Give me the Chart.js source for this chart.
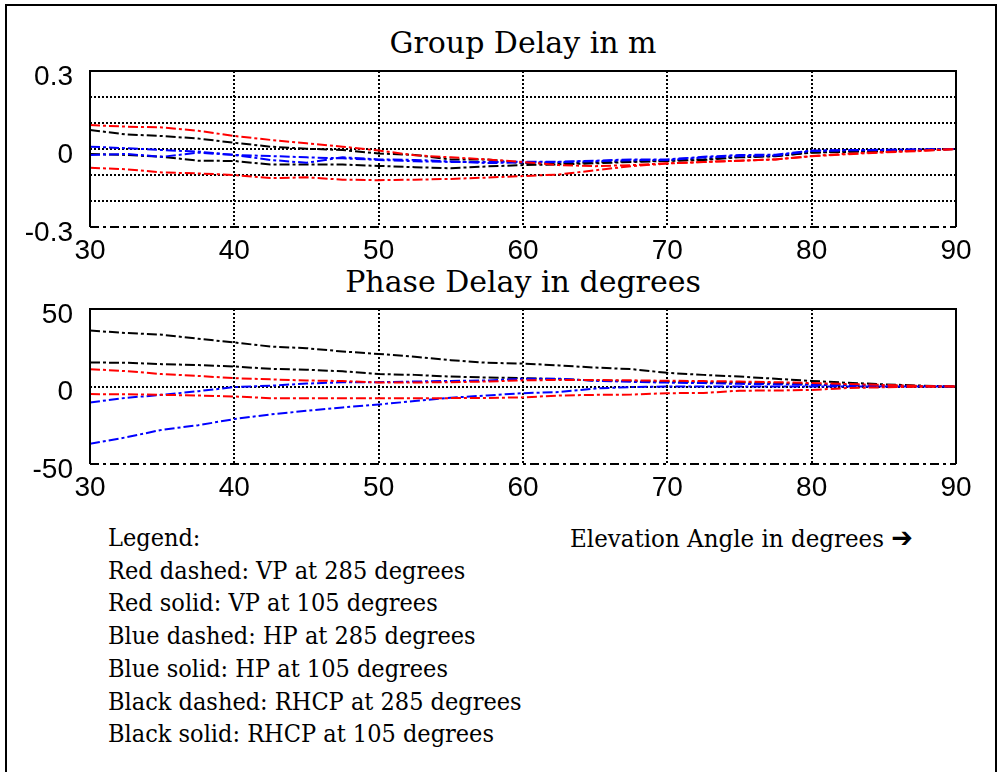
<!DOCTYPE html>
<html>
<head>
<meta charset="utf-8">
<script src="https://cdn.jsdelivr.net/npm/chart.js@4.4.1/dist/chart.umd.min.js"></script>
<style>
  html, body { margin: 0; padding: 0; background: #fff; }
  body { width: 999px; height: 772px; position: relative; overflow: hidden; }
  #frame { position: absolute; left: 5px; top: 4px; width: 992px; height: 820px; border: 2px solid #000; box-sizing: border-box; }
  .txt { position: absolute; font-family: "DejaVu Serif", serif; color: #000; white-space: nowrap; }
  .title { left: 90px; width: 866px; text-align: center; font-size: 30px; line-height: 30px; }
  #t1 { top: 28px; }
  #t2 { top: 267px; }
  #legend { left: 108px; top: 522px; font-size: 25px; line-height: 32.7px; transform: scaleX(0.9); transform-origin: 0 0; }
  #xlab { left: 570px; top: 522px; font-size: 25px; line-height: 32.7px; transform: scaleX(0.92); transform-origin: 0 0; }
  #xlab .arrow { font-family: "DejaVu Sans", sans-serif; font-weight: bold; font-size: 28px; }
  canvas { position: absolute; left: 0; }
  #c1 { top: 31px; }
  #c2 { top: 269px; }
</style>
</head>
<body>
<div id="frame"></div>
<div class="txt title" id="t1">Group Delay in m</div>
<div class="txt title" id="t2">Phase Delay in degrees</div>
<canvas id="c1" width="990" height="234"></canvas>
<canvas id="c2" width="990" height="233"></canvas>
<div class="txt" id="legend">Legend:<br>Red dashed: VP at 285 degrees<br>Red solid: VP at 105 degrees<br>Blue dashed: HP at 285 degrees<br>Blue solid: HP at 105 degrees<br>Black dashed: RHCP at 285 degrees<br>Black solid: RHCP at 105 degrees</div>
<div class="txt" id="xlab">Elevation Angle in degrees <span class="arrow">&#x2794;</span></div>
<script>
// Elevation angles (degrees)
const angles = [30, 32.5, 35, 37.5, 40, 42.5, 45, 47.5, 50, 52.5, 55, 57.5, 60,
                62.5, 65, 67.5, 70, 72.5, 75, 77.5, 80, 82.5, 85, 87.5, 90];

// Group delay (m)
const gdRedDashed   = [0.092, 0.086, 0.083, 0.070, 0.050, 0.035, 0.022, 0.009, -0.006, -0.024, -0.032, -0.040, -0.050,
                       -0.062, -0.066, -0.062, -0.055, -0.050, -0.045, -0.040, -0.027, -0.018, -0.012, -0.006, 0];
const gdRedSolid    = [-0.072, -0.078, -0.090, -0.094, -0.100, -0.112, -0.109, -0.118, -0.120, -0.118, -0.115, -0.110, -0.104,
                       -0.098, -0.082, -0.066, -0.056, -0.050, -0.045, -0.040, -0.028, -0.020, -0.013, -0.008, 0];
const gdBlueDashed  = [0.009, 0.003, -0.004, -0.010, -0.023, -0.027, -0.032, -0.036, -0.042, -0.047, -0.050, -0.050, -0.049,
                       -0.049, -0.045, -0.040, -0.040, -0.030, -0.023, -0.022, -0.006, -0.004, -0.003, -0.002, 0];
const gdBlueSolid   = [-0.023, -0.019, -0.030, -0.014, -0.023, -0.042, -0.053, -0.032, -0.040, -0.042, -0.048, -0.054, -0.052,
                       -0.050, -0.047, -0.043, -0.042, -0.033, -0.027, -0.025, -0.008, -0.005, -0.004, -0.002, 0];
const gdBlackDashed = [0.073, 0.056, 0.050, 0.040, 0.024, 0.009, 0.001, -0.004, -0.017, -0.023, -0.040, -0.040, -0.054,
                       -0.055, -0.052, -0.048, -0.045, -0.040, -0.030, -0.027, -0.013, -0.010, -0.007, -0.004, 0];
const gdBlackSolid  = [-0.019, -0.023, -0.030, -0.045, -0.046, -0.060, -0.060, -0.060, -0.065, -0.070, -0.074, -0.067, -0.062,
                       -0.059, -0.055, -0.050, -0.046, -0.042, -0.032, -0.028, -0.014, -0.011, -0.008, -0.004, 0];

// Phase delay (degrees)
const pdRedDashed   = [11.2, 9.9, 8.0, 6.8, 5.4, 4.6, 3.9, 3.5, 2.6, 2.6, 2.8, 3.2, 4.0,
                       4.2, 4.2, 4.0, 3.7, 3.5, 3.2, 2.8, 2.2, 1.6, 1.0, 0.4, 0];
const pdRedSolid    = [-4.9, -5.0, -5.4, -5.8, -6.4, -7.5, -7.5, -7.5, -7.5, -7.5, -7.5, -7.4, -7.0,
                       -5.8, -5.4, -5.2, -4.3, -4.2, -2.7, -2.6, -2.2, -1.0, -0.5, -0.2, 0];
const pdBlueDashed  = [-10.3, -7.3, -5.4, -3.0, -0.4, 0.5, 1.9, 2.7, 2.8, 3.2, 3.6, 3.9, 5.0,
                       5.0, 3.7, 3.0, 2.5, 2.2, 1.7, 1.4, 1.1, 0.8, 0.5, 0.2, 0];
const pdBlueSolid   = [-37.0, -32.8, -27.9, -25.0, -21.0, -18.0, -15.7, -13.5, -11.6, -9.4, -7.2, -5.8, -4.3,
                       -3.6, -1.3, -0.4, 0, 0, 0, 0, 0, 0, 0, 0, 0];
const pdBlackDashed = [36.1, 34.5, 33.4, 30.8, 28.4, 25.8, 24.7, 22.6, 21.0, 19.2, 17.0, 15.3, 14.8,
                       13.6, 12.2, 11.2, 8.8, 7.5, 6.4, 5.0, 3.6, 2.4, 1.4, 0.6, 0];
const pdBlackSolid  = [15.5, 15.3, 14.4, 13.8, 12.9, 11.4, 10.8, 9.8, 8.0, 7.5, 6.4, 5.8, 5.4,
                       4.8, 3.9, 3.5, 3.0, 2.8, 2.6, 2.2, 1.5, 1.0, 0.6, 0.3, 0];

const xTicks = [30, 40, 50, 60, 70, 80, 90];
const gdTickLabels = [-0.3, 0, 0.3];
const pdTickLabels = [-50, 0, 50];

const COLORS = { red: '#ff0000', blue: '#0000ff', black: '#000000' };

function mkSet(label, values, color) {
  return {
    label,
    data: values.map((v, i) => ({ x: angles[i], y: v })),
    borderColor: color,
    borderWidth: 2,
    borderDash: [10, 3, 3, 3],
    pointRadius: 0,
    tension: 0,
    fill: false
  };
}

const framePlugin = {
  id: 'frame',
  afterDatasetsDraw(chart) {
    const { ctx, chartArea: a } = chart;
    ctx.save();
    ctx.strokeStyle = '#000';
    ctx.lineWidth = 2;
    ctx.beginPath();
    ctx.moveTo(a.left, a.bottom);
    ctx.lineTo(a.left, a.top);
    ctx.lineTo(a.right, a.top);
    ctx.lineTo(a.right, a.bottom);
    ctx.stroke();
    ctx.setLineDash([9, 4, 3, 4]);
    ctx.beginPath();
    ctx.moveTo(a.left, a.bottom);
    ctx.lineTo(a.right, a.bottom);
    ctx.stroke();
    ctx.restore();
  }
};

function isEdge(ctx, min, max) {
  const v = ctx.tick ? ctx.tick.value : null;
  return v === null || Math.abs(v - min) < 1e-9 || Math.abs(v - max) < 1e-9;
}

function makeChart(id, sets, yMin, yMax, yStep, labelVals, fmt) {
  return new Chart(document.getElementById(id), {
    type: 'line',
    data: { datasets: sets },
    plugins: [framePlugin],
    options: {
      responsive: false,
      animation: false,
      devicePixelRatio: 1,
      layout: { padding: { left: 0, right: 34, top: 40, bottom: 0 } },
      plugins: { legend: { display: false }, title: { display: false }, tooltip: { enabled: false } },
      scales: {
        x: {
          type: 'linear', min: 30, max: 90,
          afterBuildTicks: (s) => { s.ticks = xTicks.map(v => ({ value: v })); },
          afterFit: (s) => { s.height = 38; },
          ticks: { autoSkip: false, maxRotation: 0, padding: 7, color: '#000',
                   font: { family: 'Liberation Sans', size: 28 } },
          grid: { drawTicks: false, lineWidth: 2,
                  color: (c) => isEdge(c, 30, 90) ? 'rgba(0,0,0,0)' : '#000' },
          border: { display: false, dash: [2, 2] }
        },
        y: {
          type: 'linear', min: yMin, max: yMax,
          ticks: { stepSize: yStep, autoSkip: false, padding: 17, labelOffset: 6, color: '#000',
                   font: { family: 'Liberation Sans', size: 28 },
                   callback: (v) => labelVals.some(t => Math.abs(t - v) < 1e-9) ? fmt(v) : '' },
          afterFit: (s) => { s.width = 90; },
          grid: { drawTicks: false, lineWidth: 2,
                  color: (c) => isEdge(c, yMin, yMax) ? 'rgba(0,0,0,0)' : '#000' },
          border: { display: false, dash: [2, 2] }
        }
      }
    }
  });
}

const fmtGd = (v) => Math.abs(v) < 1e-9 ? '0' : v.toFixed(1);
const fmtPd = (v) => String(Math.round(v));

makeChart('c1', [
  mkSet('Red dashed: VP at 285 degrees', gdRedDashed, COLORS.red),
  mkSet('Red solid: VP at 105 degrees', gdRedSolid, COLORS.red),
  mkSet('Blue dashed: HP at 285 degrees', gdBlueDashed, COLORS.blue),
  mkSet('Blue solid: HP at 105 degrees', gdBlueSolid, COLORS.blue),
  mkSet('Black dashed: RHCP at 285 degrees', gdBlackDashed, COLORS.black),
  mkSet('Black solid: RHCP at 105 degrees', gdBlackSolid, COLORS.black)
], -0.3, 0.3, 0.1, gdTickLabels, fmtGd);

makeChart('c2', [
  mkSet('Red dashed: VP at 285 degrees', pdRedDashed, COLORS.red),
  mkSet('Red solid: VP at 105 degrees', pdRedSolid, COLORS.red),
  mkSet('Blue dashed: HP at 285 degrees', pdBlueDashed, COLORS.blue),
  mkSet('Blue solid: HP at 105 degrees', pdBlueSolid, COLORS.blue),
  mkSet('Black dashed: RHCP at 285 degrees', pdBlackDashed, COLORS.black),
  mkSet('Black solid: RHCP at 105 degrees', pdBlackSolid, COLORS.black)
], -50, 50, 50, pdTickLabels, fmtPd);
</script>
</body>
</html>
